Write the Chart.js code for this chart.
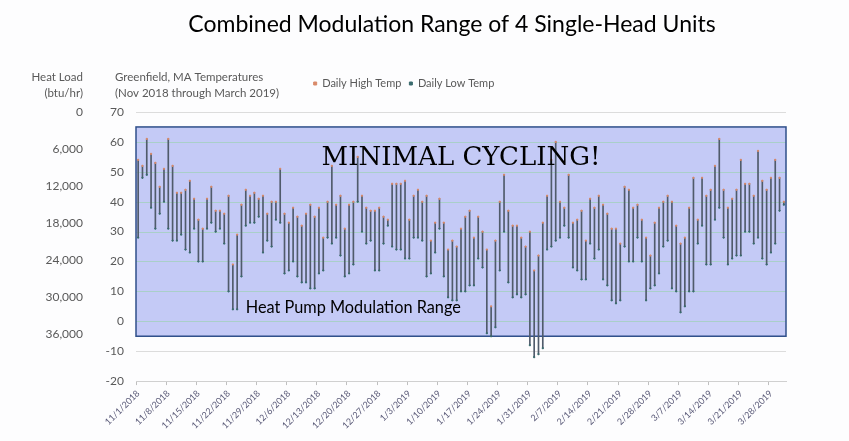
<!DOCTYPE html>
<html>
<head>
<meta charset="utf-8">
<title>Combined Modulation Range of 4 Single-Head Units</title>
<script src="https://cdn.jsdelivr.net/npm/chart.js@4.4.0/dist/chart.umd.min.js"></script>
<style>
  html, body { margin: 0; padding: 0; background: #fdfdfe; }
</style>
</head>
<body>
<canvas id="tempChart" width="849" height="441"></canvas>
<script>
// Greenfield, MA daily temps, 11/1/2018 - 3/31/2019
const highTemps = [
    54, 52, 61, 56, 53, 45, 51, 61, 52, 43, 43, 44, 47, 41, 34, 31, 41, 45, 37, 37,
    36, 42, 19, 29, 39, 44, 42, 43, 41, 42, 36, 40, 40, 51, 36, 33, 38, 35, 32, 36,
    39, 35, 38, 28, 40, 52, 39, 42, 31, 39, 40, 55, 42, 38, 37, 37, 38, 35, 34, 46,
    46, 46, 47, 34, 42, 44, 40, 42, 27, 33, 41, 33, 24, 27, 25, 31, 35, 37, 28, 35,
    30, 24, 5, 27, 40, 49, 37, 32, 32, 28, 25, 30, 17, 22, 33, 42, 54, 60, 40, 38,
    49, 33, 34, 37, 27, 41, 38, 42, 39, 36, 31, 31, 26, 45, 44, 38, 39, 34, 28, 22,
    33, 38, 40, 42, 40, 32, 26, 28, 38, 48, 34, 48, 42, 44, 52, 61, 44, 38, 41, 44,
    54, 46, 46, 42, 57, 47, 44, 48, 54, 48, 40
];
const lowTemps = [
    28, 48, 49, 38, 31, 36, 40, 31, 27, 27, 29, 24, 23, 31, 20, 20, 31, 33, 30, 31,
    26, 10, 4, 4, 15, 32, 33, 33, 35, 23, 27, 25, 34, 33, 16, 17, 20, 15, 13, 13,
    11, 11, 16, 17, 28, 26, 28, 22, 15, 16, 19, 40, 30, 26, 27, 17, 17, 26, 32, 25,
    24, 24, 21, 21, 28, 28, 27, 15, 16, 23, 31, 15, 8, 7, 7, 10, 10, 12, 12, 21,
    18, -4, -5, -2, 17, 30, 13, 8, 9, 8, 9, -8, -12, -11, -9, 24, 25, 27, 28, 32,
    28, 18, 17, 14, 14, 26, 21, 24, 14, 12, 7, 6, 7, 25, 20, 20, 28, 20, 7, 11,
    12, 16, 25, 27, 11, 10, 3, 5, 10, 10, 26, 32, 19, 19, 34, 38, 28, 19, 21, 22,
    22, 30, 30, 26, 28, 21, 19, 23, 26, 37, 39
];

// weekly labels shown on the date axis
const tickLabels = [
    '11/1/2018', '11/8/2018', '11/15/2018', '11/22/2018', '11/29/2018', '12/6/2018',
    '12/13/2018', '12/20/2018', '12/27/2018', '1/3/2019', '1/10/2019', '1/17/2019',
    '1/24/2019', '1/31/2019', '2/7/2019', '2/14/2019', '2/21/2019', '2/28/2019',
    '3/7/2019', '3/14/2019', '3/21/2019', '3/28/2019'
];
const heatLoadTicks = [0, 6000, 12000, 18000, 24000, 30000, 36000];
const bandRange = [-5, 65]; // heat pump modulation range, in deg F

// one category per day
const months = [[11, 2018, 30], [12, 2018, 31], [1, 2019, 31], [2, 2019, 28], [3, 2019, 31]];
const dates = [];
months.forEach(([m, y, n]) => {
    for (let d = 1; d <= n; d++) dates.push(`${m}/${d}/${y}`);
});

const textColor = '#595959';
const baseFont = 'Lato, "Open Sans", sans-serif';

const bandPlugin = {
    id: 'modBand',
    beforeDatasetsDraw(chart) {
        const { ctx, chartArea, scales: { y } } = chart;
        const top = y.getPixelForValue(bandRange[1]);
        const bottom = y.getPixelForValue(bandRange[0]);
        ctx.save();
        ctx.fillStyle = '#c4caf6';
        ctx.fillRect(chartArea.left, top, chartArea.right - chartArea.left, bottom - top);
        // gridlines show through the band with a greenish tint
        ctx.strokeStyle = '#a9cfc9';
        ctx.lineWidth = 1;
        y.ticks.forEach(t => {
            if (t.value > bandRange[0] && t.value < bandRange[1]) {
                const py = Math.round(y.getPixelForValue(t.value)) + 0.5;
                ctx.beginPath();
                ctx.moveTo(chartArea.left, py);
                ctx.lineTo(chartArea.right, py);
                ctx.stroke();
            }
        });
        ctx.strokeStyle = '#2f4f8a';
        ctx.lineWidth = 1.5;
        ctx.strokeRect(chartArea.left, top, chartArea.right - chartArea.left, bottom - top);
        ctx.restore();
    },
    afterDatasetsDraw(chart) {
        const { ctx, scales: { x, y } } = chart;
        ctx.save();
        ctx.fillStyle = '#000';
        ctx.textBaseline = 'middle';
        ctx.textAlign = 'center';
        ctx.font = '26px "DejaVu Serif", serif';
        ctx.fillText('MINIMAL CYCLING!', x.getPixelForValue(75), y.getPixelForValue(54.5));
        ctx.textAlign = 'left';
        ctx.font = '16.3px ' + baseFont;
        ctx.fillText('Heat Pump Modulation Range', x.getPixelForValue(25), y.getPixelForValue(4.5));
        ctx.restore();
    },
    afterDraw(chart) {
        const { ctx } = chart;
        ctx.save();
        ctx.textBaseline = 'middle';
        ctx.fillStyle = '#000';
        ctx.textAlign = 'center';
        ctx.font = '23px ' + baseFont;
        ctx.fillText('Combined Modulation Range of 4 Single-Head Units', 452, 25);

        ctx.fillStyle = textColor;
        ctx.font = '11.5px ' + baseFont;
        ctx.textAlign = 'right';
        ctx.fillText('Heat Load', 83, 77);
        ctx.fillText('(btu/hr)', 83, 93);
        ctx.textAlign = 'left';
        ctx.fillText('Greenfield, MA Temperatures', 115, 77);
        ctx.fillText('(Nov 2018 through March 2019)', 115, 93);
        ctx.restore();
    }
};

const ctx = document.getElementById('tempChart').getContext('2d');
new Chart(ctx, {
    type: 'bar',
    data: {
        labels: dates,
        datasets: [
            {
                label: 'Range',
                data: dates.map((d, i) => [lowTemps[i], highTemps[i]]),
                backgroundColor: '#505b6b',
                barThickness: 1,
                grouped: false,
                order: 2
            },
            {
                type: 'line',
                label: 'Daily High Temp',
                data: highTemps,
                showLine: false,
                pointStyle: 'rect',
                pointRadius: 0.8,
                backgroundColor: '#d98a6a',
                borderColor: '#d98a6a',
                order: 1
            },
            {
                type: 'line',
                label: 'Daily Low Temp',
                data: lowTemps,
                showLine: false,
                pointStyle: 'rect',
                pointRadius: 0.8,
                backgroundColor: '#3b6b6e',
                borderColor: '#3b6b6e',
                order: 1
            }
        ]
    },
    options: {
        responsive: false,
        animation: false,
        layout: { padding: { top: 70, left: 22, right: 63, bottom: 7 } },
        plugins: {
            title: { display: false },
            tooltip: { enabled: false },
            legend: {
                display: true,
                position: 'top',
                labels: {
                    filter: item => item.text !== 'Range',
                    usePointStyle: true,
                    boxWidth: 3,
                    boxHeight: 3,
                    padding: 8,
                    color: textColor,
                    font: { size: 11, family: baseFont }
                }
            }
        },
        scales: {
            x: {
                type: 'category',
                offset: true,
                grid: {
                    offset: true,
                    drawOnChartArea: false,
                    drawTicks: true,
                    tickLength: 4,
                    color: c => (c.index % 7 === 0 ? '#bfbfbf' : 'rgba(0,0,0,0)')
                },
                border: { color: '#d0d0d0' },
                ticks: {
                    autoSkip: false,
                    minRotation: 45,
                    maxRotation: 45,
                    color: '#5a5a78',
                    font: { size: 9, family: baseFont },
                    callback: function (value) {
                        const lbl = this.getLabelForValue(value);
                        return tickLabels.includes(lbl) ? lbl : '';
                    }
                }
            },
            // empty strip that leaves room for the axis headings above the plot
            headingSpace: {
                type: 'category',
                position: 'top',
                afterFit: s => { s.height = 13; },
                ticks: { display: false },
                grid: { display: false },
                border: { display: false }
            },
            y: {
                position: 'left',
                min: -20,
                max: 70,
                weight: 0,
                afterFit: s => { s.width = 36; },
                grid: { color: '#dcdcdc', drawTicks: false },
                border: { display: false },
                ticks: {
                    stepSize: 10,
                    padding: 12,
                    color: textColor,
                    font: { size: 12, family: baseFont }
                }
            },
            y2: {
                position: 'left',
                reverse: true,
                min: 0,
                max: 43700,
                weight: 1,
                afterFit: s => { s.width = 78; },
                afterBuildTicks: s => { s.ticks = heatLoadTicks.map(v => ({ value: v })); },
                grid: { drawOnChartArea: false, drawTicks: false },
                border: { display: false },
                ticks: {
                    padding: 17,
                    color: textColor,
                    font: { size: 12, family: baseFont },
                    callback: v => v.toLocaleString('en-US')
                }
            }
        }
    },
    plugins: [bandPlugin]
});
</script>
</body>
</html>
